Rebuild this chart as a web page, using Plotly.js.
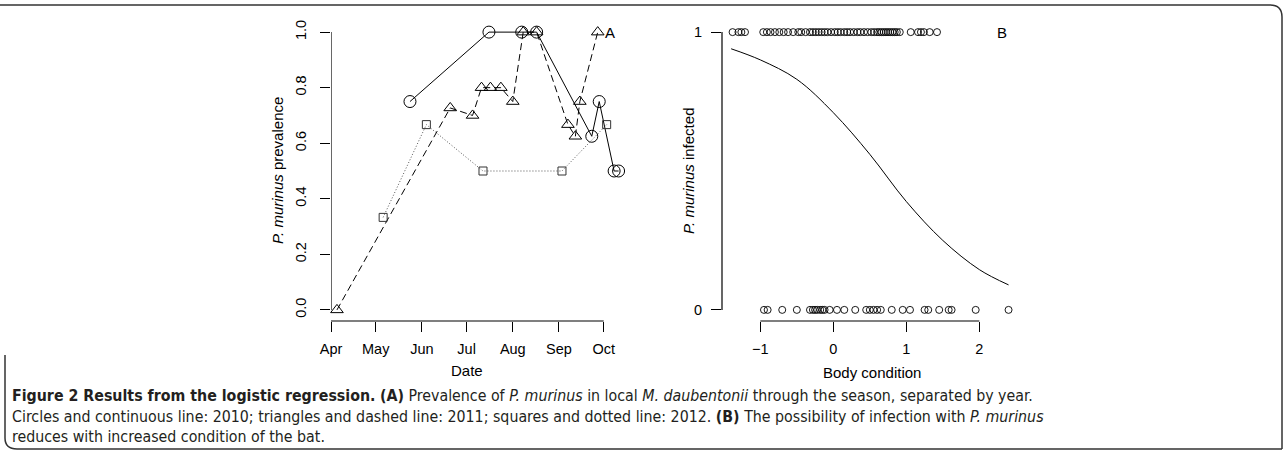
<!DOCTYPE html>
<html>
<head>
<meta charset="utf-8">
<script src="https://cdn.plot.ly/plotly-3.0.1.min.js"></script>
<style>
html,body{margin:0;padding:0;background:#fff;}
#chart{width:1287px;height:450px;}
</style>
</head>
<body>
<div id="chart"></div>
<script>
// ---- Panel A data (season dates, prevalence) ----
var dates2010 = ['2010-05-24','2010-07-16','2010-08-07','2010-08-17','2010-09-23','2010-09-28','2010-10-08','2010-10-11'];
var prev2010  = [0.75, 1, 1, 1, 0.625, 0.75, 0.5, 0.5];

var dates2011 = ['2010-04-05','2010-06-20','2010-07-05','2010-07-11','2010-07-17','2010-07-24','2010-08-01','2010-08-08','2010-08-17','2010-09-07','2010-09-12','2010-09-15','2010-09-27'];
var prev2011  = [0, 0.727, 0.7, 0.8, 0.8, 0.8, 0.75, 1, 1, 0.667, 0.625, 0.75, 1];

var dates2012 = ['2010-05-06','2010-06-04','2010-07-12','2010-09-03','2010-10-03'];
var prev2012  = [0.333, 0.667, 0.5, 0.5, 0.667];

var monthTickVals = ['2010-04-01','2010-05-01','2010-06-01','2010-07-01','2010-08-01','2010-09-01','2010-10-01'];
var monthTickText = ['Apr','May','Jun','Jul','Aug','Sep','Oct'];
var prevTickVals = [0, 0.2, 0.4, 0.6, 0.8, 1.0];
var prevTickText = ['0.0','0.2','0.4','0.6','0.8','1.0'];

var condInfected = [-1.38,-1.30,-1.26,-1.21,-0.96,-0.91,-0.86,-0.80,-0.74,-0.68,-0.62,-0.55,-0.48,-0.44,-0.38,-0.32,-0.28,-0.24,-0.20,-0.16,-0.12,-0.08,-0.03,0.02,0.06,0.10,0.15,0.19,0.23,0.28,0.33,0.37,0.42,0.47,0.52,0.56,0.60,0.63,0.66,0.69,0.72,0.75,0.78,0.81,0.84,0.87,0.91,1.06,1.16,1.20,1.24,1.32,1.42];
var condUninfected = [-0.95,-0.90,-0.70,-0.50,-0.32,-0.28,-0.25,-0.22,-0.18,-0.15,-0.12,-0.05,0.05,0.15,0.30,0.45,0.50,0.55,0.60,0.65,0.80,0.95,1.05,1.25,1.30,1.45,1.58,1.62,1.95,2.40];
var curveX = [-1.40,-1.0,-0.5,0.0,0.5,1.0,1.5,2.0,2.40];
var curveY = [0.94,0.90,0.83,0.71,0.56,0.39,0.25,0.145,0.09];
var condTickVals = [-1, 0, 1, 2];
var condTickText = ['\u22121','0','1','2'];
var infTickVals = [0, 1];
var infTickText = ['0','1'];

var ones = condInfected.map(function(){return 1;});
var zeros = condUninfected.map(function(){return 0;});

var F = 'Liberation Sans, Arial, Helvetica, sans-serif';
var CAP = 'Liberation Sans Narrow, DejaVu Sans Condensed, Arial Narrow, sans-serif';
var TF = 14.5;

var traces = [
  {x: dates2010, y: prev2010, xaxis:'x', yaxis:'y', mode:'lines+markers', type:'scatter',
   line:{color:'#000', width:1, dash:'solid'},
   marker:{symbol:'circle-open', size:12, color:'#000', line:{width:1, color:'#000'}}, cliponaxis:false},
  {x: dates2011, y: prev2011, xaxis:'x', yaxis:'y', mode:'lines+markers', type:'scatter',
   line:{color:'#000', width:1, dash:'7px,4px'},
   marker:{symbol:'triangle-up-open', size:11, color:'#000', line:{width:1, color:'#000'}}, cliponaxis:false},
  {x: dates2012, y: prev2012, xaxis:'x', yaxis:'y', mode:'lines+markers', type:'scatter',
   line:{color:'#555', width:1, dash:'1px,2px'},
   marker:{symbol:'square-open', size:8, color:'#333', line:{width:1, color:'#333'}}, cliponaxis:false},
  {x: curveX, y: curveY, xaxis:'x2', yaxis:'y2', mode:'lines', type:'scatter',
   line:{color:'#000', width:1, shape:'spline'}},
  {x: condInfected, y: ones, xaxis:'x2', yaxis:'y2', mode:'markers', type:'scatter',
   marker:{symbol:'circle-open', size:7, color:'#000', line:{width:0.9, color:'#000'}}, cliponaxis:false},
  {x: condUninfected, y: zeros, xaxis:'x2', yaxis:'y2', mode:'markers', type:'scatter',
   marker:{symbol:'circle-open', size:7, color:'#000', line:{width:0.9, color:'#000'}}, cliponaxis:false}
];

var W = 1287, H = 450;
function px(v){return v/W;}
function py(v){return (H - v)/H;}

var axCommon = {showgrid:false, zeroline:false, showline:false, ticks:'outside', ticklen:10,
  tickwidth:1, tickcolor:'#000', automargin:false, tickfont:{family:F, size:TF, color:'#000'}};

function ann(x, y, text, extra){
  return Object.assign({xref:'paper', yref:'paper', x:px(x), y:py(y), xanchor:'center', yanchor:'middle',
    text:text, showarrow:false, font:{family:F, size:15, color:'#000'}}, extra||{});
}
var capFont = {family:CAP, size:15.8, color:'#231f20'};

var layout = {
  width: W, height: H,
  margin:{l:0, r:0, t:0, b:0},
  paper_bgcolor:'#fff', plot_bgcolor:'#fff',
  showlegend:false,
  xaxis: Object.assign({}, axCommon, {domain:[px(331), px(632)], type:'date',
    range:['2010-04-01','2010-10-20'], tickmode:'array', tickvals:monthTickVals, ticktext:monthTickText,
    ticklabelstandoff:5, anchor:'y'}),
  yaxis: Object.assign({}, axCommon, {domain:[py(321), py(21)], range:[-0.04,1.04],
    tickmode:'array', tickvals:prevTickVals, ticktext:prevTickText, tickangle:-90, ticklabelstandoff:8, anchor:'x'}),
  xaxis2: Object.assign({}, axCommon, {domain:[px(722), px(1019.5)], range:[-1.525,2.55],
    tickmode:'array', tickvals:condTickVals, ticktext:condTickText, ticklabelstandoff:5, anchor:'y2'}),
  yaxis2: Object.assign({}, axCommon, {domain:[py(321), py(21)], range:[-0.04,1.04],
    tickmode:'array', tickvals:infTickVals, ticktext:infTickText, ticklabelstandoff:6, anchor:'x2'}),
  shapes: [
    {type:'line', xref:'x', yref:'y', x0:'2010-04-01', x1:'2010-04-01', y0:0, y1:1, line:{color:'#000', width:1.2}},
    {type:'line', xref:'x', yref:'y domain', x0:'2010-04-01', x1:'2010-10-01', y0:0, y1:0, line:{color:'#000', width:1.2}},
    {type:'line', xref:'x2 domain', yref:'y2', x0:0, x1:0, y0:0, y1:1, line:{color:'#000', width:1.2}},
    {type:'line', xref:'x2', yref:'y2 domain', x0:-1, x1:2, y0:0, y1:0, line:{color:'#000', width:1.2}},
    // figure frame
    {type:'path', xref:'paper', yref:'paper',
     path:'M 0,'+py(5)+' L '+px(1270)+','+py(5)+' Q '+px(1282)+','+py(5)+' '+px(1282)+','+py(17)+' L '+px(1282)+','+py(449),
     line:{color:'#333', width:1.5}},
    {type:'path', xref:'paper', yref:'paper',
     path:'M '+px(5)+','+py(355)+' L '+px(5)+','+py(438)+' Q '+px(5)+','+py(449)+' '+px(17)+','+py(449)+' L '+px(1282)+','+py(449),
     line:{color:'#333', width:1.5}}
  ],
  annotations: [
    ann(277, 171, '<i>P. murinus</i> prevalence', {textangle:-90}),
    ann(467, 370, 'Date'),
    ann(688, 171, '<i>P. murinus</i> infected', {textangle:-90}),
    ann(872, 372, 'Body condition'),
    ann(610, 32, 'A'),
    ann(1002, 32, 'B'),
    ann(10, 395, '<b>Figure 2 Results from the logistic regression.</b> <b>(A)</b> Prevalence of <i>P. murinus</i> in local <i>M. daubentonii</i> through the season, separated by year.',
      {xanchor:'left', align:'left', font:capFont}),
    ann(10, 416, 'Circles and continuous line: 2010; triangles and dashed line: 2011; squares and dotted line: 2012. <b>(B)</b> The possibility of infection with <i>P. murinus</i>',
      {xanchor:'left', align:'left', font:capFont}),
    ann(10, 436.5, 'reduces with increased condition of the bat.',
      {xanchor:'left', align:'left', font:capFont})
  ]
};

Plotly.newPlot('chart', traces, layout, {staticPlot:true, displayModeBar:false});
</script>
</body>
</html>
